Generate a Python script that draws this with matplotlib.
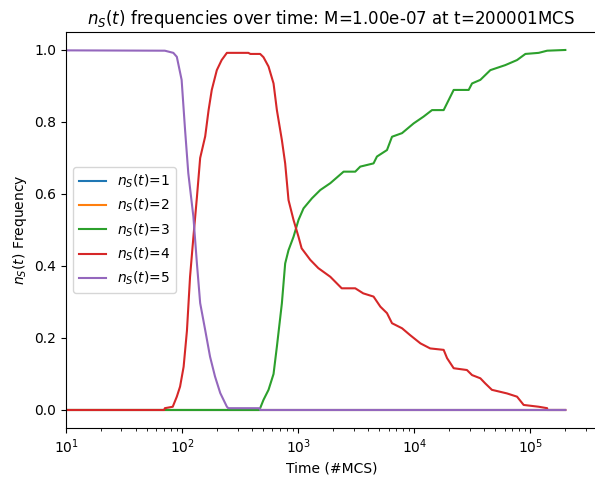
import numpy as np
import matplotlib
matplotlib.use("Agg")
import matplotlib.pyplot as plt

# time points (MCS) and frequencies
t_end = 200001

t5 = [1, 71, 84, 90, 99, 106, 113, 125, 134, 143, 158, 174, 192, 213, 243, 250,
      465, 470, t_end]
f5 = [1.0, 0.998, 0.992, 0.981, 0.917, 0.778, 0.658, 0.537, 0.408, 0.297, 0.222,
      0.148, 0.093, 0.047, 0.009, 0.005, 0.005, 0.0, 0.0]

t4 = [1, 70, 71, 83, 90, 96, 103, 110, 117, 125, 134, 143, 158, 169, 180, 199, 219,
      243, 372, 387, 470, 502, 555, 613, 655, 723, 772, 825, 911, 1006, 1070, 1270,
      1490, 1890, 2370, 3100, 3630, 4456, 5100, 5816, 6427, 7840, 9200, 11300,
      13700, 17900, 19150, 21840, 28400, 31430, 37070, 40800, 46600, 62900, 76740,
      87500, 118000, 139400, 140000, t_end]
f4 = [0.0, 0.0, 0.005, 0.009, 0.037, 0.065, 0.12, 0.22, 0.37, 0.48, 0.59, 0.70,
      0.76, 0.833, 0.889, 0.944, 0.972, 0.992, 0.992, 0.989, 0.989, 0.98, 0.954,
      0.907, 0.833, 0.75, 0.685, 0.583, 0.528, 0.481, 0.449, 0.417, 0.394, 0.37,
      0.338, 0.338, 0.324, 0.315, 0.287, 0.269, 0.241, 0.227, 0.208, 0.185, 0.171,
      0.167, 0.144, 0.116, 0.111, 0.097, 0.088, 0.074, 0.056, 0.046, 0.037, 0.014,
      0.009, 0.005, 0.0, 0.0]

t3 = [1, 465, 470, 502, 555, 613, 655, 723, 772, 825, 911, 1006, 1111, 1313, 1549,
      1890, 2460, 3100, 3422, 4456, 4766, 5816, 6427, 7840, 9865, 12030, 14210,
      17900, 19150, 21840, 29400, 31430, 37070, 45190, 60830, 76740, 90580, 118000,
      139400, t_end]
f3 = [0.0, 0.0, 0.005, 0.028, 0.056, 0.10, 0.176, 0.296, 0.407, 0.444, 0.481, 0.528,
      0.56, 0.588, 0.611, 0.63, 0.662, 0.662, 0.676, 0.685, 0.704, 0.722, 0.759,
      0.769, 0.796, 0.815, 0.833, 0.833, 0.852, 0.889, 0.889, 0.907, 0.917, 0.944,
      0.958, 0.972, 0.989, 0.992, 0.998, 1.0]

t_zero = [1, t_end]
f_zero = [0.0, 0.0]

series = [
    (t_zero, f_zero, "$n_S(t)$=1"),
    (t_zero, f_zero, "$n_S(t)$=2"),
    (t3, f3, "$n_S(t)$=3"),
    (t4, f4, "$n_S(t)$=4"),
    (t5, f5, "$n_S(t)$=5"),
]

fig = plt.figure(figsize=(5.95, 4.83), dpi=100)
ax = fig.add_axes([0.111, 0.1139, 0.8924, 0.8199])

for t, f, lab in series:
    ax.plot(t, f, label=lab)

ax.set_xscale("log")
ax.set_xlim(10, 3.75e5)
ax.set_ylim(-0.05, 1.05)
ax.set_title("$n_S(t)$ frequencies over time: M=1.00e-07 at t=200001MCS")
ax.set_xlabel("Time (#MCS)")
ax.set_ylabel("$n_S(t)$ Frequency")
ax.legend(loc="center left")

fig.savefig("out.png", dpi=100)
